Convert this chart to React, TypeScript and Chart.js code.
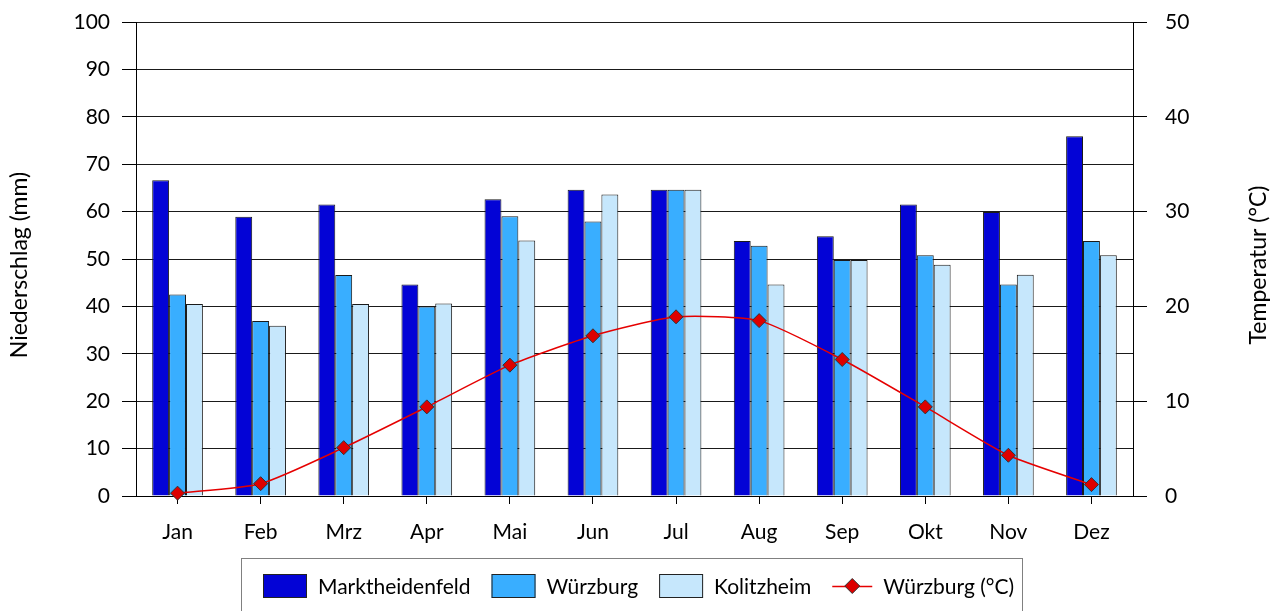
import { useEffect, useRef } from 'react';
import { Chart, registerables } from 'chart.js';

Chart.register(...registerables);

const months = ['Jan', 'Feb', 'Mrz', 'Apr', 'Mai', 'Jun', 'Jul', 'Aug', 'Sep', 'Okt', 'Nov', 'Dez'];
const marktheidenfeld = [66.6, 58.9, 61.5, 44.6, 62.6, 64.6, 64.6, 53.8, 54.8, 61.5, 59.9, 75.9];
const wuerzburgRain = [42.5, 36.9, 46.6, 40.0, 59.0, 57.9, 64.6, 52.8, 49.8, 50.8, 44.6, 53.8];
const kolitzheim = [40.5, 35.9, 40.5, 40.6, 53.9, 63.6, 64.6, 44.6, 49.8, 48.8, 46.7, 50.8];
const wuerzburgTemp = [0.3, 1.3, 5.1, 9.4, 13.8, 16.9, 18.9, 18.5, 14.4, 9.4, 4.3, 1.2];

const seriesLabels = ['Marktheidenfeld', 'Würzburg', 'Kolitzheim', 'Würzburg (°C)'];
const leftTitle = 'Niederschlag (mm)';
const rightTitle = 'Temperatur (°C)';

const FONT = 'Lato';
const FS = 21;

const titlesPlugin = {
  id: 'sideTitles',
  afterDraw(chart: any) {
    const ctx = chart.ctx;
    const ca = chart.chartArea;
    const cy = (ca.top + ca.bottom) / 2 + 6;
    const draw = (text: string, x: number) => {
      ctx.save();
      ctx.font = `23px ${FONT}`;
      ctx.fillStyle = '#000';
      ctx.textAlign = 'center';
      ctx.textBaseline = 'middle';
      ctx.translate(x, cy);
      ctx.rotate(-Math.PI / 2);
      ctx.fillText(text, 0, 0);
      ctx.restore();
    };
    draw(leftTitle, 20);
    draw(rightTitle, 1259);
  },
};

const legendPlugin = {
  id: 'boxLegend',
  afterDraw(chart: any) {
    const ctx = chart.ctx;
    ctx.save();
    ctx.strokeStyle = '#808080';
    ctx.lineWidth = 1;
    ctx.strokeRect(241.5, 558.5, 781, 60);
    ctx.font = `${FS}px ${FONT}`;
    ctx.textBaseline = 'middle';
    ctx.textAlign = 'left';
    const cy = 586;
    let x = 263;
    chart.data.datasets.forEach((ds: any) => {
      let symW = 44;
      if (ds.type === 'line') {
        symW = 40;
        ctx.strokeStyle = ds.borderColor;
        ctx.lineWidth = 1.5;
        ctx.beginPath();
        ctx.moveTo(x, cy + 0.5);
        ctx.lineTo(x + symW, cy + 0.5);
        ctx.stroke();
        const cx = x + symW / 2;
        const r = 7.5;
        ctx.beginPath();
        ctx.moveTo(cx, cy - r);
        ctx.lineTo(cx + r, cy);
        ctx.lineTo(cx, cy + r);
        ctx.lineTo(cx - r, cy);
        ctx.closePath();
        ctx.fillStyle = ds.pointBackgroundColor;
        ctx.fill();
        ctx.strokeStyle = '#333';
        ctx.lineWidth = 1;
        ctx.stroke();
      } else {
        ctx.fillStyle = ds.backgroundColor;
        ctx.fillRect(x, cy - 12, symW, 24);
        ctx.strokeStyle = '#222';
        ctx.lineWidth = 1;
        ctx.strokeRect(x + 0.5, cy - 11.5, symW - 1, 23);
      }
      ctx.fillStyle = '#000';
      ctx.fillText(ds.label, x + symW + 11, cy + 1);
      const w = ctx.measureText(ds.label).width;
      x += symW + 11 + w + 21;
    });
    ctx.restore();
  },
};

const noVPad = (width: number) => (s: any) => {
  s.width = width;
  s.paddingTop = 0;
  s.paddingBottom = 0;
};

export default function App() {
  const ref = useRef<HTMLCanvasElement>(null);
  useEffect(() => {
    const barCommon = {
      type: 'bar' as const,
      yAxisID: 'y',
      borderColor: '#1a1a1a',
      borderWidth: 1,
      categoryPercentage: 0.61,
      barPercentage: 1,
      order: 1,
    };
    const chart = new Chart(ref.current!, {
      type: 'bar',
      data: {
        labels: months,
        datasets: [
          { ...barCommon, label: seriesLabels[0], data: marktheidenfeld, backgroundColor: '#0303D6' },
          { ...barCommon, label: seriesLabels[1], data: wuerzburgRain, backgroundColor: '#39AEFF' },
          { ...barCommon, label: seriesLabels[2], data: kolitzheim, backgroundColor: '#C6E7FC' },
          {
            type: 'line',
            label: seriesLabels[3],
            data: wuerzburgTemp,
            yAxisID: 'y1',
            borderColor: '#E50000',
            borderWidth: 1.5,
            tension: 0.2,
            pointStyle: 'rectRot',
            pointRadius: 7,
            pointBackgroundColor: '#DD0000',
            pointBorderColor: '#333',
            pointBorderWidth: 1,
            clip: false as any,
            order: 0,
          } as any,
        ],
      },
      options: {
        responsive: false,
        animation: false,
        devicePixelRatio: 1,
        layout: { padding: { top: 22, left: 0, right: 0, bottom: 0 } },
        plugins: { legend: { display: false }, tooltip: { enabled: false } },
        scales: {
          x: {
            grid: { display: true, drawOnChartArea: false, offset: false, tickLength: 8, color: '#000' },
            border: { color: '#000' },
            ticks: { font: { family: FONT, size: FS }, color: '#000', padding: 16 },
            afterFit: (s: any) => { s.height = 115; s.paddingLeft = 0; s.paddingRight = 0; },
          },
          y: {
            position: 'left',
            min: 0,
            max: 100,
            ticks: { stepSize: 10, font: { family: FONT, size: FS }, color: '#000', padding: 12 },
            grid: { color: '#1a1a1a', tickLength: 14, tickColor: '#000' },
            border: { color: '#000' },
            afterFit: noVPad(136),
          },
          y1: {
            position: 'right',
            min: 0,
            max: 50,
            ticks: { stepSize: 10, font: { family: FONT, size: FS }, color: '#000', padding: 18 },
            grid: { drawOnChartArea: false, tickLength: 14, color: '#000' },
            border: { color: '#000' },
            afterFit: noVPad(145),
          },
        },
      },
      plugins: [titlesPlugin, legendPlugin],
    });
    return () => chart.destroy();
  }, []);
  return (
    <div style={{ position: 'fixed', left: 0, top: 0, width: 1278, height: 611, background: '#fff' }}>
      <canvas ref={ref} width={1278} height={611} style={{ display: 'block' }} />
    </div>
  );
}
